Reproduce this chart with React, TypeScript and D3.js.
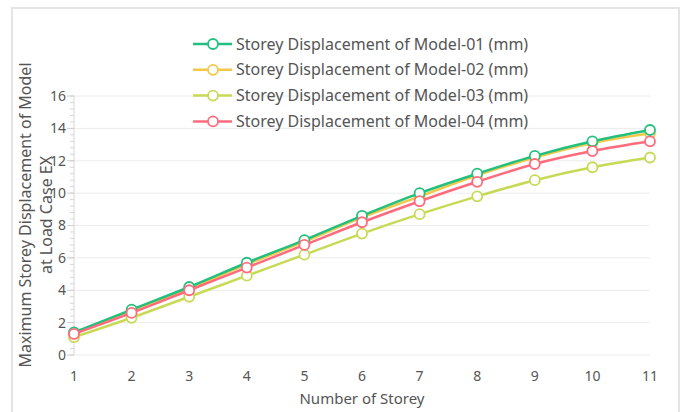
import React, { useEffect, useRef } from "react";
import * as d3 from "d3";

const storeys = [1, 2, 3, 4, 5, 6, 7, 8, 9, 10, 11];
const model01 = [1.4, 2.8, 4.2, 5.7, 7.1, 8.6, 10.0, 11.2, 12.3, 13.2, 13.9];
const model02 = [1.35, 2.7, 4.1, 5.6, 7.0, 8.5, 9.8, 11.1, 12.2, 13.1, 13.7];
const model03 = [1.1, 2.3, 3.6, 4.9, 6.2, 7.5, 8.7, 9.8, 10.8, 11.6, 12.2];
const model04 = [1.3, 2.6, 4.0, 5.4, 6.8, 8.2, 9.5, 10.7, 11.8, 12.6, 13.2];
const seriesNames = [
  "Storey Displacement of Model-01 (mm)",
  "Storey Displacement of Model-02 (mm)",
  "Storey Displacement of Model-03 (mm)",
  "Storey Displacement of Model-04 (mm)",
];
const colors = ["#22c07f", "#f2c84b", "#c8da55", "#ff6b7d"];
const yTicks = [0, 2, 4, 6, 8, 10, 12, 14, 16];

const W = 681;
const H = 412;
const font = "'Noto Sans', 'DejaVu Sans', sans-serif";

export default function App() {
  const ref = useRef<SVGSVGElement>(null);

  useEffect(() => {
    const svg = d3.select(ref.current);
    svg.selectAll("*").remove();

    const x = d3.scaleLinear().domain([1, 11]).range([74, 650]);
    const y = d3.scaleLinear().domain([0, 16]).range([355, 96]);

    // frame
    svg.append("path")
      .attr("d", `M12,${H} V8 H679 V${H}`)
      .attr("fill", "none")
      .attr("stroke", "#e4e4e4")
      .attr("stroke-width", 2);

    // grid
    svg.append("g")
      .selectAll("line")
      .data(yTicks)
      .enter()
      .append("line")
      .attr("x1", x(1))
      .attr("x2", x(11))
      .attr("y1", (d) => y(d))
      .attr("y2", (d) => y(d))
      .attr("stroke", "#ececec")
      .attr("stroke-width", 1);

    // y axis with minor ticks
    const minor = d3.range(0, 16.01, 0.4);
    svg.append("line")
      .attr("x1", x(1)).attr("x2", x(1))
      .attr("y1", y(0)).attr("y2", y(16))
      .attr("stroke", "#d6d6d6");
    svg.append("g")
      .selectAll("line")
      .data(minor)
      .enter()
      .append("line")
      .attr("x1", x(1) - 4)
      .attr("x2", x(1))
      .attr("y1", (d) => y(d))
      .attr("y2", (d) => y(d))
      .attr("stroke", "#d6d6d6");
    svg.append("g")
      .selectAll("line")
      .data(yTicks)
      .enter()
      .append("line")
      .attr("x1", x(1) - 7)
      .attr("x2", x(1))
      .attr("y1", (d) => y(d))
      .attr("y2", (d) => y(d))
      .attr("stroke", "#cfcfcf");

    svg.append("g")
      .selectAll("text")
      .data(yTicks)
      .enter()
      .append("text")
      .attr("x", 66)
      .attr("y", (d) => y(d))
      .attr("dy", "0.35em")
      .attr("text-anchor", "end")
      .attr("font-family", font)
      .attr("font-size", 14)
      .attr("fill", "#555")
      .text((d) => d);

    svg.append("g")
      .selectAll("text")
      .data(storeys)
      .enter()
      .append("text")
      .attr("x", (d) => x(d))
      .attr("y", 381)
      .attr("text-anchor", "middle")
      .attr("font-family", font)
      .attr("font-size", 14)
      .attr("fill", "#555")
      .text((d) => d);

    // axis titles
    svg.append("text")
      .attr("x", x(6))
      .attr("y", 404)
      .attr("text-anchor", "middle")
      .attr("font-family", font)
      .attr("font-size", 15)
      .attr("fill", "#555")
      .text("Number of Storey");

    const yt = svg.append("text")
      .attr("transform", "translate(31,215) rotate(-90)")
      .attr("text-anchor", "middle")
      .attr("font-family", font)
      .attr("font-size", 16)
      .attr("fill", "#555");
    yt.append("tspan").attr("x", 0).attr("y", 0).text("Maximum Storey Displacement of Model");
    yt.append("tspan").attr("x", 0).attr("y", 21).text("at Load Case EX");

    // series
    const all = [model01, model02, model03, model04];
    const line = d3.line<number>()
      .x((d, i) => x(storeys[i]))
      .y((d) => y(d))
      .curve(d3.curveMonotoneX);

    // draw model-03 first, then 02, 01, 04 on top (red is topmost)
    const order = [2, 1, 0, 3];
    order.forEach((k) => {
      const g = svg.append("g");
      g.append("path")
        .attr("d", line(all[k]))
        .attr("fill", "none")
        .attr("stroke", colors[k])
        .attr("stroke-width", 2.5);
      g.selectAll("circle")
        .data(all[k])
        .enter()
        .append("circle")
        .attr("cx", (d, i) => x(storeys[i]))
        .attr("cy", (d) => y(d))
        .attr("r", 5)
        .attr("fill", "#fff")
        .attr("stroke", colors[k])
        .attr("stroke-width", 1.8);
    });

    // legend
    const lg = svg.append("g");
    seriesNames.forEach((name, k) => {
      const cy = 44 + k * 25.8;
      lg.append("line")
        .attr("x1", 193).attr("x2", 232)
        .attr("y1", cy).attr("y2", cy)
        .attr("stroke", colors[k])
        .attr("stroke-width", 2.5);
      lg.append("circle")
        .attr("cx", 213).attr("cy", cy).attr("r", 5)
        .attr("fill", "#fff")
        .attr("stroke", colors[k])
        .attr("stroke-width", 1.8);
      lg.append("text")
        .attr("x", 236).attr("y", cy)
        .attr("dy", "0.35em")
        .attr("font-family", font)
        .attr("font-size", 16)
        .attr("fill", "#555")
        .text(name);
    });
  }, []);

  return (
    <svg
      ref={ref}
      width={W}
      height={H}
      style={{ position: "absolute", left: 0, top: 0, background: "#fff" }}
    />
  );
}
